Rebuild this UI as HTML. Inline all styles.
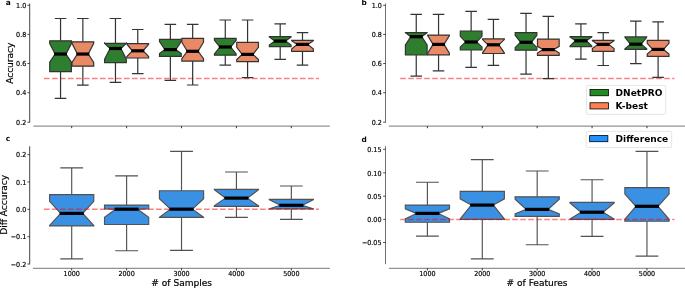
<!DOCTYPE html>
<html><head><meta charset="utf-8"><title>Figure</title>
<style>
html,body{margin:0;padding:0;background:#fff;}
body{width:685px;height:288px;overflow:hidden;}
svg{display:block;will-change:transform;opacity:0.999;}
.tk{font-family:"DejaVu Sans","Liberation Sans",sans-serif;font-size:6.4px;fill:#000;stroke:#000;stroke-width:0.16px;}
.lb{font-family:"DejaVu Sans","Liberation Sans",sans-serif;font-size:9.05px;fill:#000;stroke:#000;stroke-width:0.2px;}
.lg{font-family:"DejaVu Sans","Liberation Sans",sans-serif;font-size:9.05px;font-weight:bold;fill:#000;}
.pl{font-family:"DejaVu Sans","Liberation Sans",sans-serif;font-size:7.4px;font-weight:bold;fill:#000;}
</style></head><body>
<svg width="685" height="288" viewBox="0 0 685 288">
<rect width="685" height="288" fill="#fff"/>
<path d="M29.7 3.5V122.5" stroke="#222" stroke-width="0.85" fill="none"/>
<path d="M27.40 5.30H29.70" stroke="#222" stroke-width="0.8"/>
<path d="M27.40 34.40H29.70" stroke="#222" stroke-width="0.8"/>
<path d="M27.40 63.50H29.70" stroke="#222" stroke-width="0.8"/>
<path d="M27.40 92.70H29.70" stroke="#222" stroke-width="0.8"/>
<path d="M27.40 122.20H29.70" stroke="#222" stroke-width="0.8"/>
<path d="M33.3 126.1H329.8" stroke="#555" stroke-width="0.8" fill="none"/>
<path d="M71.70 126.1V128.20" stroke="#222" stroke-width="0.9"/>
<path d="M126.61 126.1V128.20" stroke="#222" stroke-width="0.9"/>
<path d="M181.52 126.1V128.20" stroke="#222" stroke-width="0.9"/>
<path d="M236.43 126.1V128.20" stroke="#222" stroke-width="0.9"/>
<path d="M291.35 126.1V128.20" stroke="#222" stroke-width="0.9"/>
<text transform="translate(26.30 8.05) scale(1 1.08)" text-anchor="end" class="tk">1.0</text>
<text transform="translate(26.30 37.15) scale(1 1.08)" text-anchor="end" class="tk">0.8</text>
<text transform="translate(26.30 66.25) scale(1 1.08)" text-anchor="end" class="tk">0.6</text>
<text transform="translate(26.30 95.45) scale(1 1.08)" text-anchor="end" class="tk">0.4</text>
<text transform="translate(26.30 124.95) scale(1 1.08)" text-anchor="end" class="tk">0.2</text>
<path d="M49.70 71.60L71.40 71.60L71.40 62.10L65.98 54.05L71.40 43.60L71.40 40.80L49.70 40.80L49.70 43.60L55.13 54.05L49.70 62.10Z" fill="#2f7e2f" stroke="#333333" stroke-width="1.2" stroke-linejoin="miter"/>
<path d="M72.00 66.20L93.70 66.20L93.70 62.50L88.28 54.05L93.70 43.30L93.70 41.80L72.00 41.80L72.00 43.30L77.43 54.05L72.00 62.50Z" fill="#e98966" stroke="#333333" stroke-width="1.2" stroke-linejoin="miter"/>
<path d="M104.61 62.70L126.31 62.70L126.31 59.20L120.88 48.50L126.31 43.20L126.31 43.30L104.61 43.30L104.61 43.20L110.03 48.50L104.61 59.20Z" fill="#2f7e2f" stroke="#333333" stroke-width="1.2" stroke-linejoin="miter"/>
<path d="M126.91 58.00L148.61 58.00L148.61 56.50L143.19 50.80L148.61 44.20L148.61 43.70L126.91 43.70L126.91 44.20L132.33 50.80L126.91 56.50Z" fill="#e98966" stroke="#333333" stroke-width="1.2" stroke-linejoin="miter"/>
<path d="M159.52 56.30L181.22 56.30L181.22 53.60L175.80 49.60L181.22 41.60L181.22 39.30L159.52 39.30L159.52 41.60L164.94 49.60L159.52 53.60Z" fill="#2f7e2f" stroke="#333333" stroke-width="1.2" stroke-linejoin="miter"/>
<path d="M181.82 61.10L203.52 61.10L203.52 58.60L198.10 51.30L203.52 42.20L203.52 38.30L181.82 38.30L181.82 42.20L187.25 51.30L181.82 58.60Z" fill="#e98966" stroke="#333333" stroke-width="1.2" stroke-linejoin="miter"/>
<path d="M214.43 55.20L236.13 55.20L236.13 54.00L230.71 47.00L236.13 40.20L236.13 38.40L214.43 38.40L214.43 40.20L219.85 47.00L214.43 54.00Z" fill="#2f7e2f" stroke="#333333" stroke-width="1.2" stroke-linejoin="miter"/>
<path d="M236.73 61.60L258.43 61.60L258.43 59.50L253.01 54.40L258.43 47.30L258.43 42.40L236.73 42.40L236.73 47.30L242.16 54.40L236.73 59.50Z" fill="#e98966" stroke="#333333" stroke-width="1.2" stroke-linejoin="miter"/>
<path d="M269.35 46.60L291.05 46.60L291.05 45.00L285.63 41.10L291.05 36.90L291.05 36.60L269.35 36.60L269.35 36.90L274.78 41.10L269.35 45.00Z" fill="#2f7e2f" stroke="#333333" stroke-width="1.2" stroke-linejoin="miter"/>
<path d="M291.65 51.30L313.35 51.30L313.35 49.00L307.93 44.40L313.35 40.80L313.35 40.40L291.65 40.40L291.65 40.80L297.07 44.40L291.65 49.00Z" fill="#e98966" stroke="#333333" stroke-width="1.2" stroke-linejoin="miter"/>
<path d="M44 78.45H319" stroke="#ff0000" stroke-opacity="0.5" stroke-width="1.5" stroke-dasharray="5.6 2.4" fill="none"/>
<path d="M60.55 40.80V18.50M60.55 71.60V98.30M54.78 18.50H66.33M54.78 98.30H66.33" stroke="#333333" stroke-width="1.2" fill="none"/>
<path d="M54.13 54.05H66.98" stroke="#000" stroke-width="3.2"/>
<path d="M82.85 41.80V18.50M82.85 66.20V85.10M77.08 18.50H88.62M77.08 85.10H88.62" stroke="#333333" stroke-width="1.2" fill="none"/>
<path d="M76.43 54.05H89.28" stroke="#000" stroke-width="3.2"/>
<path d="M115.46 43.30V18.50M115.46 62.70V82.40M109.69 18.50H121.23M109.69 82.40H121.23" stroke="#333333" stroke-width="1.2" fill="none"/>
<path d="M109.03 48.50H121.88" stroke="#000" stroke-width="3.2"/>
<path d="M137.76 43.70V29.50M137.76 58.00V73.70M131.98 29.50H143.53M131.98 73.70H143.53" stroke="#333333" stroke-width="1.2" fill="none"/>
<path d="M131.33 50.80H144.19" stroke="#000" stroke-width="3.2"/>
<path d="M170.37 39.30V24.30M170.37 56.30V80.40M164.59 24.30H176.15M164.59 80.40H176.15" stroke="#333333" stroke-width="1.2" fill="none"/>
<path d="M163.94 49.60H176.80" stroke="#000" stroke-width="3.2"/>
<path d="M192.67 38.30V24.30M192.67 61.10V85.00M186.90 24.30H198.45M186.90 85.00H198.45" stroke="#333333" stroke-width="1.2" fill="none"/>
<path d="M186.25 51.30H199.10" stroke="#000" stroke-width="3.2"/>
<path d="M225.28 38.40V20.00M225.28 55.20V65.10M219.50 20.00H231.06M219.50 65.10H231.06" stroke="#333333" stroke-width="1.2" fill="none"/>
<path d="M218.85 47.00H231.71" stroke="#000" stroke-width="3.2"/>
<path d="M247.58 42.40V20.00M247.58 61.60V77.60M241.81 20.00H253.36M241.81 77.60H253.36" stroke="#333333" stroke-width="1.2" fill="none"/>
<path d="M241.16 54.40H254.01" stroke="#000" stroke-width="3.2"/>
<path d="M280.20 36.60V23.80M280.20 46.60V59.30M274.43 23.80H285.98M274.43 59.30H285.98" stroke="#333333" stroke-width="1.2" fill="none"/>
<path d="M273.78 41.10H286.63" stroke="#000" stroke-width="3.2"/>
<path d="M302.50 40.40V32.60M302.50 51.30V65.20M296.72 32.60H308.28M296.72 65.20H308.28" stroke="#333333" stroke-width="1.2" fill="none"/>
<path d="M296.07 44.40H308.93" stroke="#000" stroke-width="3.2"/>
<path d="M385.5 3.5V122.5" stroke="#222" stroke-width="0.65" fill="none"/>
<path d="M383.20 5.30H385.50" stroke="#222" stroke-width="0.8"/>
<path d="M383.20 34.40H385.50" stroke="#222" stroke-width="0.8"/>
<path d="M383.20 63.50H385.50" stroke="#222" stroke-width="0.8"/>
<path d="M383.20 92.70H385.50" stroke="#222" stroke-width="0.8"/>
<path d="M383.20 122.20H385.50" stroke="#222" stroke-width="0.8"/>
<path d="M388.9 126.1H685" stroke="#555" stroke-width="0.8" fill="none"/>
<path d="M427.40 126.1V128.20" stroke="#222" stroke-width="0.9"/>
<path d="M482.29 126.1V128.20" stroke="#222" stroke-width="0.9"/>
<path d="M537.18 126.1V128.20" stroke="#222" stroke-width="0.9"/>
<path d="M592.07 126.1V128.20" stroke="#222" stroke-width="0.9"/>
<path d="M646.96 126.1V128.20" stroke="#222" stroke-width="0.9"/>
<text transform="translate(381.90 8.05) scale(1 1.08)" text-anchor="end" class="tk">1.0</text>
<text transform="translate(381.90 37.15) scale(1 1.08)" text-anchor="end" class="tk">0.8</text>
<text transform="translate(381.90 66.25) scale(1 1.08)" text-anchor="end" class="tk">0.6</text>
<text transform="translate(381.90 95.45) scale(1 1.08)" text-anchor="end" class="tk">0.4</text>
<text transform="translate(381.90 124.95) scale(1 1.08)" text-anchor="end" class="tk">0.2</text>
<path d="M405.40 55.00L427.10 55.00L427.10 45.00L421.68 36.70L427.10 32.75L427.10 32.70L405.40 32.70L405.40 32.75L410.82 36.70L405.40 45.00Z" fill="#2f7e2f" stroke="#333333" stroke-width="1.2" stroke-linejoin="miter"/>
<path d="M427.70 54.80L449.40 54.80L449.40 53.20L443.97 44.40L449.40 35.60L449.40 35.10L427.70 35.10L427.70 35.60L433.12 44.40L427.70 53.20Z" fill="#e98966" stroke="#333333" stroke-width="1.2" stroke-linejoin="miter"/>
<path d="M460.29 50.00L481.99 50.00L481.99 46.90L476.57 42.00L481.99 36.30L481.99 31.00L460.29 31.00L460.29 36.30L465.72 42.00L460.29 46.90Z" fill="#2f7e2f" stroke="#333333" stroke-width="1.2" stroke-linejoin="miter"/>
<path d="M482.59 53.50L504.29 53.50L504.29 52.80L498.87 44.80L504.29 39.60L504.29 38.90L482.59 38.90L482.59 39.60L488.01 44.80L482.59 52.80Z" fill="#e98966" stroke="#333333" stroke-width="1.2" stroke-linejoin="miter"/>
<path d="M515.18 50.20L536.88 50.20L536.88 47.40L531.45 42.30L536.88 35.20L536.88 32.60L515.18 32.60L515.18 35.20L520.61 42.30L515.18 47.40Z" fill="#2f7e2f" stroke="#333333" stroke-width="1.2" stroke-linejoin="miter"/>
<path d="M537.48 55.40L559.18 55.40L559.18 53.10L553.75 49.60L559.18 46.30L559.18 39.10L537.48 39.10L537.48 46.30L542.90 49.60L537.48 53.10Z" fill="#e98966" stroke="#333333" stroke-width="1.2" stroke-linejoin="miter"/>
<path d="M570.07 46.60L591.77 46.60L591.77 46.10L586.35 40.80L591.77 36.90L591.77 36.60L570.07 36.60L570.07 36.90L575.50 40.80L570.07 46.10Z" fill="#2f7e2f" stroke="#333333" stroke-width="1.2" stroke-linejoin="miter"/>
<path d="M592.37 51.30L614.07 51.30L614.07 48.50L608.64 44.40L614.07 40.70L614.07 40.40L592.37 40.40L592.37 40.70L597.80 44.40L592.37 48.50Z" fill="#e98966" stroke="#333333" stroke-width="1.2" stroke-linejoin="miter"/>
<path d="M624.96 49.30L646.66 49.30L646.66 48.80L641.24 44.20L646.66 37.40L646.66 36.90L624.96 36.90L624.96 37.40L630.39 44.20L624.96 48.80Z" fill="#2f7e2f" stroke="#333333" stroke-width="1.2" stroke-linejoin="miter"/>
<path d="M647.26 56.30L668.96 56.30L668.96 54.00L663.53 49.40L668.96 43.30L668.96 40.30L647.26 40.30L647.26 43.30L652.69 49.40L647.26 54.00Z" fill="#e98966" stroke="#333333" stroke-width="1.2" stroke-linejoin="miter"/>
<path d="M400.2 78.45H674.5" stroke="#ff0000" stroke-opacity="0.5" stroke-width="1.5" stroke-dasharray="5.6 2.4" fill="none"/>
<path d="M416.25 32.70V14.30M416.25 55.00V76.10M410.47 14.30H422.03M410.47 76.10H422.03" stroke="#333333" stroke-width="1.2" fill="none"/>
<path d="M409.82 36.70H422.68" stroke="#000" stroke-width="3.2"/>
<path d="M438.55 35.10V14.30M438.55 54.80V70.80M432.77 14.30H444.32M432.77 70.80H444.32" stroke="#333333" stroke-width="1.2" fill="none"/>
<path d="M432.12 44.40H444.97" stroke="#000" stroke-width="3.2"/>
<path d="M471.14 31.00V11.30M471.14 50.00V67.30M465.37 11.30H476.92M465.37 67.30H476.92" stroke="#333333" stroke-width="1.2" fill="none"/>
<path d="M464.72 42.00H477.57" stroke="#000" stroke-width="3.2"/>
<path d="M493.44 38.90V19.30M493.44 53.50V65.40M487.66 19.30H499.22M487.66 65.40H499.22" stroke="#333333" stroke-width="1.2" fill="none"/>
<path d="M487.01 44.80H499.87" stroke="#000" stroke-width="3.2"/>
<path d="M526.03 32.60V13.30M526.03 50.20V74.20M520.25 13.30H531.80M520.25 74.20H531.80" stroke="#333333" stroke-width="1.2" fill="none"/>
<path d="M519.61 42.30H532.45" stroke="#000" stroke-width="3.2"/>
<path d="M548.33 39.10V16.30M548.33 55.40V78.70M542.55 16.30H554.10M542.55 78.70H554.10" stroke="#333333" stroke-width="1.2" fill="none"/>
<path d="M541.90 49.60H554.75" stroke="#000" stroke-width="3.2"/>
<path d="M580.92 36.60V23.80M580.92 46.60V59.20M575.15 23.80H586.70M575.15 59.20H586.70" stroke="#333333" stroke-width="1.2" fill="none"/>
<path d="M574.50 40.80H587.35" stroke="#000" stroke-width="3.2"/>
<path d="M603.22 40.40V32.70M603.22 51.30V65.50M597.45 32.70H609.00M597.45 65.50H609.00" stroke="#333333" stroke-width="1.2" fill="none"/>
<path d="M596.80 44.40H609.64" stroke="#000" stroke-width="3.2"/>
<path d="M635.81 36.90V21.10M635.81 49.30V63.70M630.04 21.10H641.59M630.04 63.70H641.59" stroke="#333333" stroke-width="1.2" fill="none"/>
<path d="M629.39 44.20H642.24" stroke="#000" stroke-width="3.2"/>
<path d="M658.11 40.30V21.90M658.11 56.30V77.40M652.34 21.90H663.88M652.34 77.40H663.88" stroke="#333333" stroke-width="1.2" fill="none"/>
<path d="M651.69 49.40H664.53" stroke="#000" stroke-width="3.2"/>
<path d="M29.7 146.3V264.4" stroke="#222" stroke-width="0.85" fill="none"/>
<path d="M27.40 154.60H29.70" stroke="#222" stroke-width="0.8"/>
<path d="M27.40 181.95H29.70" stroke="#222" stroke-width="0.8"/>
<path d="M27.40 209.30H29.70" stroke="#222" stroke-width="0.8"/>
<path d="M27.40 236.65H29.70" stroke="#222" stroke-width="0.8"/>
<path d="M27.40 264.00H29.70" stroke="#222" stroke-width="0.8"/>
<path d="M33.0 268.3H329.8" stroke="#555" stroke-width="0.8" fill="none"/>
<path d="M71.70 268.3V270.40" stroke="#222" stroke-width="0.9"/>
<path d="M126.61 268.3V270.40" stroke="#222" stroke-width="0.9"/>
<path d="M181.52 268.3V270.40" stroke="#222" stroke-width="0.9"/>
<path d="M236.43 268.3V270.40" stroke="#222" stroke-width="0.9"/>
<path d="M291.35 268.3V270.40" stroke="#222" stroke-width="0.9"/>
<text transform="translate(26.30 157.35) scale(1 1.08)" text-anchor="end" class="tk">0.2</text>
<text transform="translate(26.30 184.70) scale(1 1.08)" text-anchor="end" class="tk">0.1</text>
<text transform="translate(26.30 212.05) scale(1 1.08)" text-anchor="end" class="tk">0.0</text>
<text transform="translate(26.30 239.40) scale(1 1.08)" text-anchor="end" class="tk">−0.1</text>
<text transform="translate(26.30 266.75) scale(1 1.08)" text-anchor="end" class="tk">−0.2</text>
<text transform="translate(71.70 276.25) scale(1 1.08)" text-anchor="middle" class="tk">1000</text>
<text transform="translate(126.61 276.25) scale(1 1.08)" text-anchor="middle" class="tk">2000</text>
<text transform="translate(181.52 276.25) scale(1 1.08)" text-anchor="middle" class="tk">3000</text>
<text transform="translate(236.43 276.25) scale(1 1.08)" text-anchor="middle" class="tk">4000</text>
<text transform="translate(291.35 276.25) scale(1 1.08)" text-anchor="middle" class="tk">5000</text>
<path d="M49.60 225.90L93.80 225.90L93.80 225.40L82.75 213.40L93.80 201.40L93.80 194.60L49.60 194.60L49.60 201.40L60.65 213.40L49.60 225.40Z" fill="#3a90e3" stroke="#525252" stroke-width="1.15" stroke-linejoin="miter"/>
<path d="M104.51 224.50L148.71 224.50L148.71 217.20L137.66 209.20L148.71 208.90L148.71 205.10L104.51 205.10L104.51 208.90L115.56 209.20L104.51 217.20Z" fill="#3a90e3" stroke="#525252" stroke-width="1.15" stroke-linejoin="miter"/>
<path d="M159.42 217.40L203.62 217.40L203.62 217.30L192.57 209.15L203.62 198.70L203.62 190.70L159.42 190.70L159.42 198.70L170.47 209.15L159.42 217.30Z" fill="#3a90e3" stroke="#525252" stroke-width="1.15" stroke-linejoin="miter"/>
<path d="M214.33 206.30L258.53 206.30L258.53 205.90L247.48 198.10L258.53 189.80L258.53 189.30L214.33 189.30L214.33 189.80L225.38 198.10L214.33 205.90Z" fill="#3a90e3" stroke="#525252" stroke-width="1.15" stroke-linejoin="miter"/>
<path d="M269.25 208.90L313.45 208.90L313.45 208.80L302.40 205.30L313.45 199.60L313.45 199.30L269.25 199.30L269.25 199.60L280.30 205.30L269.25 208.80Z" fill="#3a90e3" stroke="#525252" stroke-width="1.15" stroke-linejoin="miter"/>
<path d="M44 209.2H319" stroke="#ff0000" stroke-opacity="0.5" stroke-width="1.5" stroke-dasharray="5.6 2.4" fill="none"/>
<path d="M71.70 194.60V167.90M71.70 225.90V258.90M60.30 167.90H83.10M60.30 258.90H83.10" stroke="#525252" stroke-width="1.15" fill="none"/>
<path d="M59.65 213.40H83.75" stroke="#000" stroke-width="3.2"/>
<path d="M126.61 205.10V175.90M126.61 224.50V250.70M115.21 175.90H138.01M115.21 250.70H138.01" stroke="#525252" stroke-width="1.15" fill="none"/>
<path d="M114.56 209.20H138.66" stroke="#000" stroke-width="3.2"/>
<path d="M181.52 190.70V151.30M181.52 217.40V250.40M170.12 151.30H192.92M170.12 250.40H192.92" stroke="#525252" stroke-width="1.15" fill="none"/>
<path d="M169.47 209.15H193.57" stroke="#000" stroke-width="3.2"/>
<path d="M236.43 189.30V172.00M236.43 206.30V217.40M225.03 172.00H247.83M225.03 217.40H247.83" stroke="#525252" stroke-width="1.15" fill="none"/>
<path d="M224.38 198.10H248.48" stroke="#000" stroke-width="3.2"/>
<path d="M291.35 199.30V186.00M291.35 208.90V219.30M279.95 186.00H302.75M279.95 219.30H302.75" stroke="#525252" stroke-width="1.15" fill="none"/>
<path d="M279.30 205.30H303.40" stroke="#000" stroke-width="3.2"/>
<path d="M385.5 146.3V264.2" stroke="#222" stroke-width="0.65" fill="none"/>
<path d="M383.20 149.30H385.50" stroke="#222" stroke-width="0.8"/>
<path d="M383.20 172.80H385.50" stroke="#222" stroke-width="0.8"/>
<path d="M383.20 196.20H385.50" stroke="#222" stroke-width="0.8"/>
<path d="M383.20 219.40H385.50" stroke="#222" stroke-width="0.8"/>
<path d="M383.20 242.50H385.50" stroke="#222" stroke-width="0.8"/>
<path d="M388.9 268.3H685" stroke="#555" stroke-width="0.8" fill="none"/>
<path d="M427.40 268.3V270.40" stroke="#222" stroke-width="0.9"/>
<path d="M482.29 268.3V270.40" stroke="#222" stroke-width="0.9"/>
<path d="M537.18 268.3V270.40" stroke="#222" stroke-width="0.9"/>
<path d="M592.07 268.3V270.40" stroke="#222" stroke-width="0.9"/>
<path d="M646.96 268.3V270.40" stroke="#222" stroke-width="0.9"/>
<text transform="translate(381.50 152.05) scale(1 1.08)" text-anchor="end" class="tk">0.15</text>
<text transform="translate(381.50 175.55) scale(1 1.08)" text-anchor="end" class="tk">0.10</text>
<text transform="translate(381.50 198.95) scale(1 1.08)" text-anchor="end" class="tk">0.05</text>
<text transform="translate(381.50 222.15) scale(1 1.08)" text-anchor="end" class="tk">0.00</text>
<text transform="translate(381.50 245.25) scale(1 1.08)" text-anchor="end" class="tk">−0.05</text>
<text transform="translate(427.40 276.25) scale(1 1.08)" text-anchor="middle" class="tk">1000</text>
<text transform="translate(482.29 276.25) scale(1 1.08)" text-anchor="middle" class="tk">2000</text>
<text transform="translate(537.18 276.25) scale(1 1.08)" text-anchor="middle" class="tk">3000</text>
<text transform="translate(592.07 276.25) scale(1 1.08)" text-anchor="middle" class="tk">4000</text>
<text transform="translate(646.96 276.25) scale(1 1.08)" text-anchor="middle" class="tk">5000</text>
<path d="M405.30 222.20L449.50 222.20L449.50 218.90L438.45 213.40L449.50 208.90L449.50 205.10L405.30 205.10L405.30 208.90L416.35 213.40L405.30 218.90Z" fill="#3a90e3" stroke="#525252" stroke-width="1.15" stroke-linejoin="miter"/>
<path d="M460.19 219.40L504.39 219.40L504.39 218.90L493.34 205.10L504.39 198.80L504.39 191.40L460.19 191.40L460.19 198.80L471.24 205.10L460.19 218.90Z" fill="#3a90e3" stroke="#525252" stroke-width="1.15" stroke-linejoin="miter"/>
<path d="M515.08 216.30L559.28 216.30L559.28 213.90L548.23 209.40L559.28 199.20L559.28 196.80L515.08 196.80L515.08 199.20L526.13 209.40L515.08 213.90Z" fill="#3a90e3" stroke="#525252" stroke-width="1.15" stroke-linejoin="miter"/>
<path d="M569.97 219.30L614.17 219.30L614.17 219.00L603.12 212.20L614.17 203.00L614.17 202.40L569.97 202.40L569.97 203.00L581.02 212.20L569.97 219.00Z" fill="#3a90e3" stroke="#525252" stroke-width="1.15" stroke-linejoin="miter"/>
<path d="M624.86 221.20L669.06 221.20L669.06 219.30L658.01 206.30L669.06 194.10L669.06 187.60L624.86 187.60L624.86 194.10L635.91 206.30L624.86 219.30Z" fill="#3a90e3" stroke="#525252" stroke-width="1.15" stroke-linejoin="miter"/>
<path d="M400.2 219.4H674.5" stroke="#ff0000" stroke-opacity="0.5" stroke-width="1.5" stroke-dasharray="5.6 2.4" fill="none"/>
<path d="M427.40 205.10V182.20M427.40 222.20V236.10M416.00 182.20H438.80M416.00 236.10H438.80" stroke="#525252" stroke-width="1.15" fill="none"/>
<path d="M415.35 213.40H439.45" stroke="#000" stroke-width="3.2"/>
<path d="M482.29 191.40V159.60M482.29 219.40V258.90M470.89 159.60H493.69M470.89 258.90H493.69" stroke="#525252" stroke-width="1.15" fill="none"/>
<path d="M470.24 205.10H494.34" stroke="#000" stroke-width="3.2"/>
<path d="M537.18 196.80V171.00M537.18 216.30V244.70M525.78 171.00H548.58M525.78 244.70H548.58" stroke="#525252" stroke-width="1.15" fill="none"/>
<path d="M525.13 209.40H549.23" stroke="#000" stroke-width="3.2"/>
<path d="M592.07 202.40V179.70M592.07 219.30V236.30M580.67 179.70H603.47M580.67 236.30H603.47" stroke="#525252" stroke-width="1.15" fill="none"/>
<path d="M580.02 212.20H604.12" stroke="#000" stroke-width="3.2"/>
<path d="M646.96 187.60V151.30M646.96 221.20V256.10M635.56 151.30H658.36M635.56 256.10H658.36" stroke="#525252" stroke-width="1.15" fill="none"/>
<path d="M634.91 206.30H659.01" stroke="#000" stroke-width="3.2"/>
<text x="181.7" y="285.8" text-anchor="middle" class="lb"># of Samples</text>
<text x="537.1" y="285.8" text-anchor="middle" class="lb"># of Features</text>
<text transform="translate(12.95 63.2) rotate(-90)" text-anchor="middle" class="lb">Accuracy</text>
<text transform="translate(6.6 204.8) rotate(-90)" text-anchor="middle" class="lb">Diff Accuracy</text>
<text x="5.7" y="5.45" class="pl">a</text>
<text x="361.5" y="5.3" class="pl">b</text>
<text x="5.7" y="140.9" class="pl">c</text>
<text x="361.5" y="142.0" class="pl">d</text>
<rect x="586.4" y="85.4" width="79.3" height="29.0" rx="1.6" fill="#fff" fill-opacity="0.8" stroke="#d4d4d4" stroke-width="0.6"/>
<rect x="590.0" y="89.55" width="18.4" height="6.2" fill="#228b22" stroke="#000" stroke-width="0.8"/>
<rect x="590.0" y="102.75" width="18.4" height="6.2" fill="#ff7f50" stroke="#000" stroke-width="0.8"/>
<text x="615.6" y="95.9" class="lg">DNetPRO</text>
<text x="615.6" y="109" class="lg">K-best</text>
<rect x="586.2" y="131.3" width="85.5" height="16.25" rx="1.6" fill="#fff" fill-opacity="0.8" stroke="#d4d4d4" stroke-width="0.6"/>
<rect x="589.65" y="135.6" width="18.2" height="6.1" fill="#1e90ff" stroke="#000" stroke-width="0.8"/>
<text x="615.6" y="141.9" class="lg">Difference</text>
</svg></body></html>
